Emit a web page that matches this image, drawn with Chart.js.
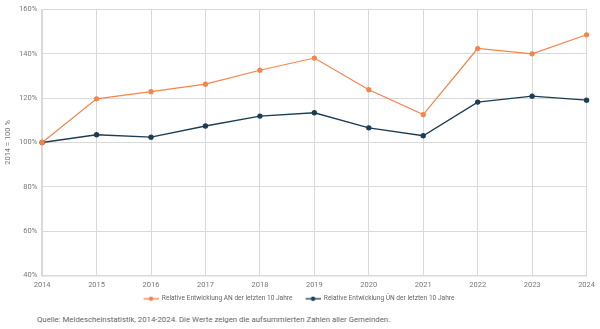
<!DOCTYPE html>
<html>
<head>
<meta charset="utf-8">
<script src="https://cdn.jsdelivr.net/npm/chart.js@4"></script>
<style>
  body { margin: 0; background: #fff; font-family: Roboto, sans-serif; }
  #wrap { position: relative; width: 600px; height: 312px; }
  #note { position: absolute; left: 37px; top: 315px; font-size: 7.8px; color: #666; }
</style>
</head>
<body>
<div id="wrap"><canvas id="myChart"></canvas></div>
<div id="note">Quelle: Meldescheinstatistik, 2014-2024. Die Werte zeigen die aufsummierten Zahlen aller Gemeinden.</div>
<script>
// Data
const years = ['2014', '2015', '2016', '2017', '2018', '2019', '2020', '2021', '2022', '2023', '2024'];
const ankuenfte = [100, 119.7, 122.9, 126.3, 132.6, 138.1, 123.8, 112.6, 142.4, 140.0, 148.6];
const uebernachtungen = [100, 103.5, 102.4, 107.4, 111.9, 113.4, 106.6, 103.0, 118.2, 120.9, 119.1];
const seriesNames = ['Relative Entwicklung AN der letzten 10 Jahre', 'Relative Entwicklung ÜN der letzten 10 Jahre'];
const colors = ['#f4844a', '#1d3d55'];

// line-with-dot marker for the legend (left margin gives the gap between items)
function marker(color) {
  const c = document.createElement('canvas');
  c.width = 22; c.height = 6;
  const g = c.getContext('2d');
  g.strokeStyle = color; g.lineWidth = 1.3;
  g.beginPath(); g.moveTo(7, 3); g.lineTo(22, 3); g.stroke();
  g.fillStyle = color;
  g.beginPath(); g.arc(14.5, 3, 2.2, 0, Math.PI * 2); g.fill();
  return c;
}

const ctx = document.getElementById('myChart').getContext('2d');
const myChart = new Chart(ctx, {
  type: 'line',
  data: {
    labels: years,
    datasets: [{
      label: seriesNames[0],
      data: ankuenfte,
      borderColor: colors[0],
      backgroundColor: colors[0],
      borderWidth: 1.2,
      pointRadius: 2,
      tension: 0
    }, {
      label: seriesNames[1],
      data: uebernachtungen,
      borderColor: colors[1],
      backgroundColor: colors[1],
      borderWidth: 1.4,
      pointRadius: 2,
      tension: 0
    }]
  },
  options: {
    responsive: true,
    maintainAspectRatio: false,
    animation: false,
    layout: { padding: { top: 3, right: 12, left: 3 } },
    plugins: {
      tooltip: { enabled: false },
      legend: {
        position: 'bottom',
        labels: {
          usePointStyle: true,
          pointStyleWidth: 22,
          boxHeight: 6,
          padding: 6,
          color: '#666',
          font: { family: 'Roboto', size: 6.6 },
          generateLabels: (chart) => chart.data.datasets.map((ds, i) => ({
            text: ds.label,
            pointStyle: marker(colors[i]),
            fillStyle: colors[i],
            strokeStyle: colors[i],
            fontColor: '#666',
            datasetIndex: i,
            hidden: false
          }))
        }
      }
    },
    scales: {
      x: {
        offset: false,
        grid: { color: '#d9d9d9', lineWidth: 1, drawTicks: false },
        border: { color: '#d9d9d9', width: 1.5 },
        ticks: { color: '#777', font: { family: 'Roboto', size: 7.5 }, padding: 5, maxRotation: 0 },
        afterFit: (s) => { s.height -= 5; }
      },
      y: {
        min: 40,
        max: 160,
        grid: { color: '#d9d9d9', lineWidth: 1, drawTicks: false },
        border: { color: '#d9d9d9', width: 1.5 },
        ticks: {
          stepSize: 20,
          color: '#777',
          font: { family: 'Roboto', size: 7.5 },
          padding: 5,
          callback: (v) => v + '%'
        },
        title: {
          display: true,
          text: '2014 = 100 %',
          color: '#777',
          font: { family: 'Roboto', size: 7.5 },
          padding: 1
        }
      }
    }
  }
});
</script>
</body>
</html>
